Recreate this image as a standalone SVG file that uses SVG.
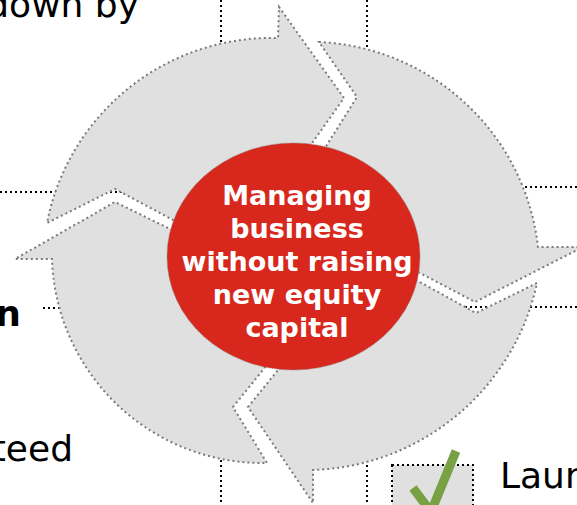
<svg xmlns="http://www.w3.org/2000/svg" width="577" height="505" viewBox="0 0 577 505">
  <style>
    .guide { fill: none; stroke: #000; stroke-width: 2; stroke-dasharray: 2 3; }
    .arrow { fill: #e0e0e0; stroke: #7a7a7a; stroke-width: 2; stroke-dasharray: 2 3; stroke-linejoin: miter; }
    .hub { fill: #d8281d; stroke: #8a8a8a; stroke-width: 1; stroke-dasharray: 1 1.2; }
    .hubtext { font-family: "DejaVu Sans", Verdana, sans-serif; font-weight: bold; font-size: 27px; fill: #fff; text-anchor: middle; }
    .side { font-family: "DejaVu Sans", Verdana, sans-serif; font-size: 36px; fill: #000; }
    .box { fill: #e0e0e0; stroke: #000; stroke-width: 2; stroke-dasharray: 2 3; }
  </style>

  <rect width="577" height="505" fill="#fff"/>

  <!-- dotted frame lines of the surrounding text boxes, passing behind the cycle -->
  <g id="connectors">
    <line class="guide" x1="221" y1="0" x2="221" y2="505"/>
    <line class="guide" x1="367" y1="0" x2="367" y2="505"/>
    <line class="guide" x1="0" y1="192" x2="290" y2="192"/>
    <line class="guide" x1="300" y1="187" x2="577" y2="187"/>
    <line class="guide" x1="43" y1="308" x2="290" y2="308"/>
    <line class="guide" x1="300" y1="307" x2="577" y2="307"/>
  </g>

  <!-- four clockwise arrows forming the cycle -->
  <g id="arrow-left-top">
    <path class="arrow" d="M 231,251 L 115,189 L 47,223 A 229 229 0 0 1 278,38 L 279,7 L 344,98 L 298,163 Z"/>
  </g>
  <g id="arrow-top-right">
    <path class="arrow" d="M 318,159 L 357,97 L 319,42 A 231 231 0 0 1 538,247 L 583,247 L 475,302 L 420,273 L 395,260 Z"/>
  </g>
  <g id="arrow-bottom-right">
    <path class="arrow" d="M 398,270 L 476,313 L 537,283 A 237 237 0 0 1 313,470 L 313,503 L 248,407 L 278,370 L 292,352 Z"/>
  </g>
  <g id="arrow-bottom-left">
    <path class="arrow" d="M 275,355 L 233,407 L 267,463 A 211 211 0 0 1 52,259 L 15,259 L 115,202 L 168,228 L 215,251 Z"/>
  </g>

  <!-- central hub -->
  <g id="hub">
    <ellipse class="hub" cx="293.5" cy="256.5" rx="126.5" ry="113.5"/>
    <text class="hubtext" x="297" y="205">Managing</text>
    <text class="hubtext" x="297" y="238">business</text>
    <text class="hubtext" x="297" y="271">without raising</text>
    <text class="hubtext" x="297" y="304">new equity</text>
    <text class="hubtext" x="297" y="337">capital</text>
  </g>

  <!-- side captions -->
  <g id="caption-top">
    <text class="side" x="139" y="17" text-anchor="end">down by</text>
  </g>
  <g id="caption-left">
    <text class="side" x="21" y="326" text-anchor="end" font-weight="bold">n</text>
  </g>
  <g id="caption-bottom-left">
    <text class="side" x="73" y="461" text-anchor="end">teed</text>
  </g>
  <g id="caption-bottom-right">
    <text class="side" x="500" y="488">Laun</text>
  </g>

  <!-- tick box -->
  <g id="tick-box">
    <rect class="box" x="392" y="465" width="81" height="60"/>
    <polyline points="413,488 431,512 456,451" fill="none" stroke="#77a142" stroke-width="9" stroke-linejoin="miter"/>
  </g>
</svg>
